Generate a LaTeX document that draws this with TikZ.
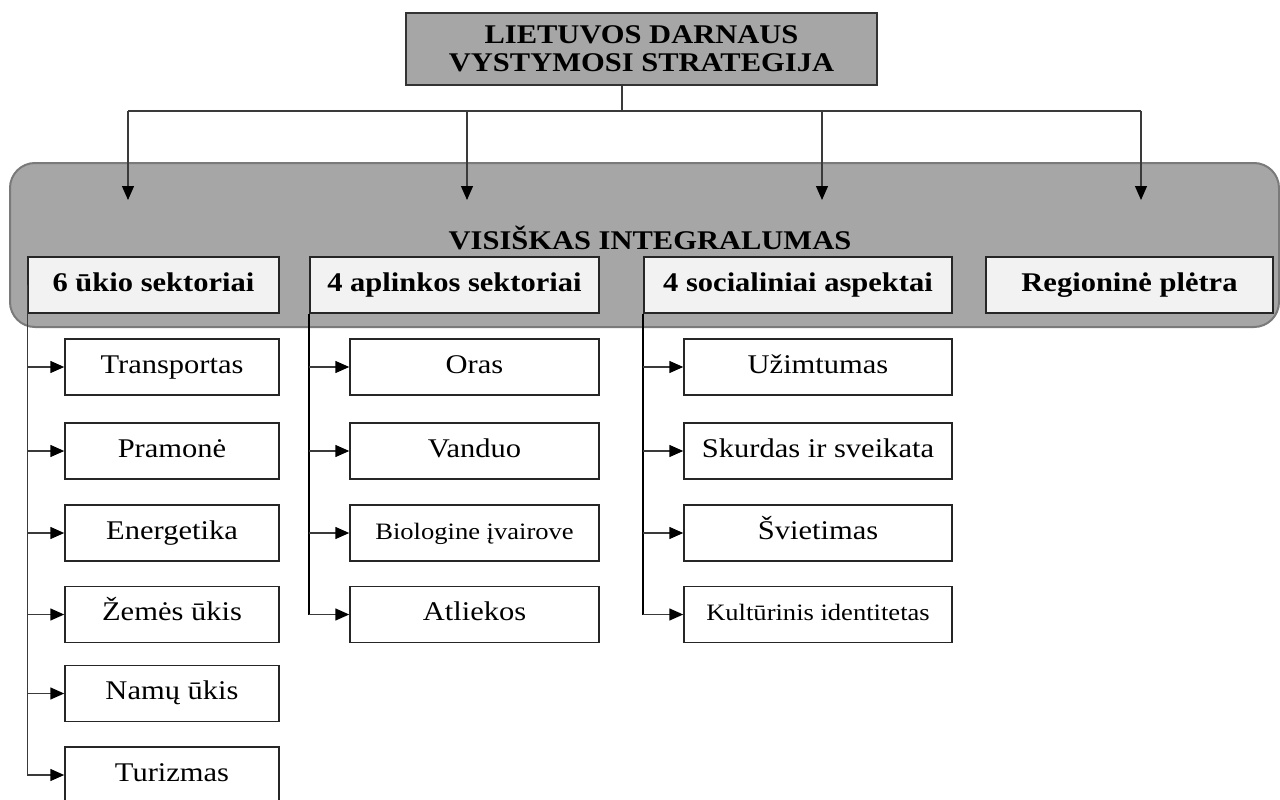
\documentclass[tikz,border=0pt]{standalone}
\usepackage{fontspec}
\setmainfont{Liberation Serif}[FakeStretch=1.13]
\usetikzlibrary{arrows.meta}
\definecolor{panelgray}{HTML}{A6A6A6}
\definecolor{paneledge}{HTML}{7A7A7A}
\definecolor{rowfill}{HTML}{F2F2F2}
\definecolor{linegray}{HTML}{3A3A3A}
\tikzset{
  topbox/.style={draw=black!80, line width=1.5pt, fill=panelgray, minimum width=471pt, minimum height=72pt,
    inner sep=0pt, align=center, font=\fontsize{27}{27.5}\selectfont\bfseries},
  panelbox/.style={draw=paneledge, line width=2pt, fill=panelgray, rounded corners=25pt,
    minimum width=1269pt, minimum height=164pt, inner sep=0pt},
  paneltext/.style={inner sep=0pt, font=\fontsize{27}{32}\selectfont\bfseries},
  rowbox/.style={draw=black!85, line width=1.5pt, fill=rowfill, minimum height=56pt, inner sep=0pt,
    text height=18pt, text depth=6pt, font=\fontsize{27}{32}\selectfont\bfseries},
  childbox/.style={draw=black!85, line width=1.5pt, fill=white, minimum height=56pt, inner sep=0pt,
    text height=18pt, text depth=6pt, font=\fontsize{27}{32}\selectfont},
  smalltext/.style={font=\fontsize{23.5}{28}\selectfont},
  conn/.style={draw=linegray, line width=1.5pt},
  thinconn/.style={draw=linegray, line width=1.2pt},
  arr/.style={-{Triangle[length=14pt,width=12pt,color=black]}},
}
\begin{document}
\begin{tikzpicture}[x=1pt,y=-1pt]
\useasboundingbox (0,0) rectangle (1280,800);
% top
\node[topbox] (top) at (641.5,49) {LIETUVOS DARNAUS\\VYSTYMOSI STRATEGIJA};
% panel
\node[panelbox] (panel) at (644.5,245) {};
\node[paneltext, anchor=base] (vis) at (650,249) {VISIŠKAS INTEGRALUMAS};
% row boxes
\node[rowbox, minimum width=251pt] (r1) at (153.5,285) {6 ūkio sektoriai};
\node[rowbox, minimum width=289pt] (r2) at (454.5,285) {4 aplinkos sektoriai};
\node[rowbox, minimum width=308pt] (r3) at (798,285) {4 socialiniai aspektai};
\node[rowbox, minimum width=287pt] (r4) at (1129.5,285) {Regioninė plėtra};
% connectors from top
\coordinate (hub) at (622,111);
\coordinate (d1) at (128,200);
\coordinate (d2) at (467,200);
\coordinate (d3) at (822,200);
\coordinate (d4) at (1141,200);
\draw[thinconn] (hub |- top.south) -- (hub);
\draw[thinconn] (d1 |- hub) -- (d4 |- hub);
\foreach \d in {d1,d2,d3,d4} \draw[thinconn, arr] (\d |- hub) -- (\d);
% column 1
\node[childbox, minimum width=214pt] (a1) at (172,367) {Transportas};
\node[childbox, minimum width=214pt] (a2) at (172,451) {Pramonė};
\node[childbox, minimum width=214pt] (a3) at (172,533) {Energetika};
\node[childbox, minimum width=214pt] (a4) at (172,614.5) {Žemės ūkis};
\node[childbox, minimum width=214pt] (a5) at (172,693.5) {Namų ūkis};
\node[childbox, minimum width=214pt] (a6) at (172,775) {Turizmas};
% column 2
\node[childbox, minimum width=249pt] (b1) at (474.5,367) {Oras};
\node[childbox, minimum width=249pt] (b2) at (474.5,451) {Vanduo};
\node[childbox, minimum width=249pt, smalltext] (b3) at (474.5,533) {Biologine įvairove};
\node[childbox, minimum width=249pt] (b4) at (474.5,614.5) {Atliekos};
% column 3
\node[childbox, minimum width=268pt] (c1) at (818,367) {Užimtumas};
\node[childbox, minimum width=268pt] (c2) at (818,451) {Skurdas ir sveikata};
\node[childbox, minimum width=268pt] (c3) at (818,533) {Švietimas};
\node[childbox, minimum width=268pt, smalltext] (c4) at (818,614.5) {Kultūrinis identitetas};
% trunks
\draw[conn] (r1.west) -- (r1.west |- a6.west);
\foreach \n in {a1,a2,a3,a4,a5,a6} \draw[conn, arr] (r1.west |- \n.west) -- (\n.west);
\draw[conn, line width=2pt, draw=black] (r2.south west) -- (r2.south west |- b4.west);
\foreach \n in {b1,b2,b3,b4} \draw[conn, arr] (r2.south west |- \n.west) -- (\n.west);
\draw[conn, line width=2pt, draw=black] (r3.south west) -- (r3.south west |- c4.west);
\foreach \n in {c1,c2,c3,c4} \draw[conn, arr] (r3.south west |- \n.west) -- (\n.west);
\end{tikzpicture}
\end{document}
